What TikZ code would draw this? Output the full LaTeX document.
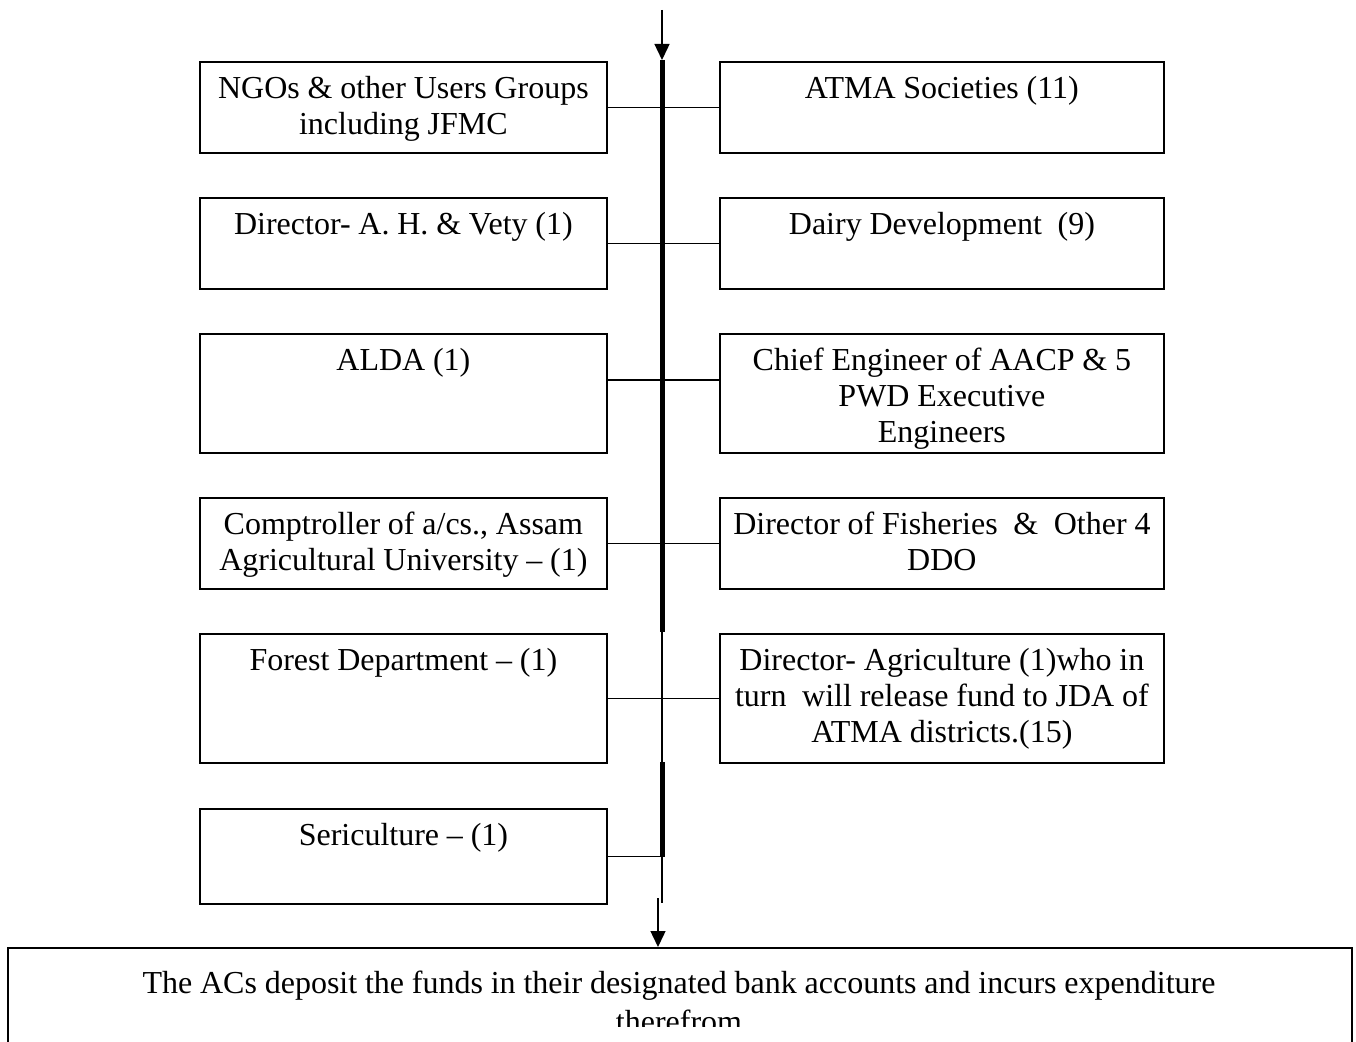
\documentclass[tikz,border=0pt]{standalone}
\usepackage{fontspec}
\setmainfont{Liberation Serif}
\usetikzlibrary{arrows.meta,calc}
\begin{document}
\begin{tikzpicture}[x=1pt,y=-1pt,
  box/.style={draw,line width=1.8pt,inner sep=0pt,anchor=north west},
  lbox/.style={box,minimum width=407pt},
  rbox/.style={box,minimum width=444pt},
  txt/.style={anchor=base,inner sep=0pt,text width=600pt,align=center,font=\fontsize{32}{36}\selectfont,
    execute at begin node={\spaceskip=7.8pt\xspaceskip=7.8pt\relax}},
  conn/.style={line width=1.8pt},
  thick spine/.style={line width=5pt},
  thin spine/.style={line width=1.8pt},
  arr/.style={line width=1.4pt,-{Triangle[width=15pt,length=16pt]}}]
\useasboundingbox (0,0) rectangle (1356,1041);
\begin{scope}
\clip (0,0) rectangle (1356,1041);
% boxes
\node[lbox,minimum height=91pt] (l1) at (199,61) {};
\node[rbox,minimum height=91pt] (r1) at (719,61) {};
\node[lbox,minimum height=91pt] (l2) at (199,197) {};
\node[rbox,minimum height=91pt] (r2) at (719,197) {};
\node[lbox,minimum height=119pt] (l3) at (199,333) {};
\node[rbox,minimum height=119pt] (r3) at (719,333) {};
\node[lbox,minimum height=91pt] (l4) at (199,497) {};
\node[rbox,minimum height=91pt] (r4) at (719,497) {};
\node[lbox,minimum height=129pt] (l5) at (199,633) {};
\node[rbox,minimum height=129pt] (r5) at (719,633) {};
\node[lbox,minimum height=95pt] (l6) at (199,808) {};
\node[box,minimum width=1344pt,minimum height=200pt] (bb) at (7,947) {};
% texts
\node[txt] (tl1) at ($(l1.north)+(0,37)$) {NGOs \& other Users Groups\\including JFMC};
\node[txt] (tr1) at ($(r1.north)+(0,37)$) {ATMA Societies (11)};
\node[txt] (tl2) at ($(l2.north)+(0,37)$) {Director- A. H. \& Vety (1)};
\node[txt] (tr2) at ($(r2.north)+(0,37)$) {Dairy Development\ \ (9)};
\node[txt] (tl3) at ($(l3.north)+(0,37)$) {ALDA (1)};
\node[txt] (tr3) at ($(r3.north)+(0,37)$) {Chief Engineer of AACP \& 5\\PWD Executive\\Engineers};
\node[txt] (tl4) at ($(l4.north)+(0,37)$) {Comptroller of a/cs., Assam\\Agricultural University -- (1)};
\node[txt] (tr4) at ($(r4.north)+(0,37)$) {Director of Fisheries\ \ \&\ \ Other 4\\DDO};
\node[txt] (tl5) at ($(l5.north)+(0,37)$) {Forest Department -- (1)};
\node[txt] (tr5) at ($(r5.north)+(0,37)$) {Director- Agriculture (1)who in\\turn\ \ will release fund to JDA of\\ATMA districts.(15)};
\node[txt] (tl6) at ($(l6.north)+(0,37)$) {Sericulture -- (1)};
\begin{scope}
\clip (0,0) rectangle (1356,1026);
\node[txt,text width=1320pt] (tb) at (679,993) {The ACs deposit the funds in their designated bank accounts and incurs expenditure\\[3pt]therefrom};
\end{scope}
% spine
\coordinate (ta) at (662,10);
\coordinate (s0) at (662,60);
\coordinate (s1) at (662,632);
\coordinate (s2) at (662,762);
\coordinate (s3) at (662,857);
\coordinate (s4) at (662,903);
\coordinate (ba) at (658,898);
\draw[thick spine] (s0) -- (s1);
\draw[thin spine] (s1) -- (s2);
\draw[thick spine] (s2) -- (s3);
\draw[thin spine] (s3) -- (s4);
\draw[arr] (ta) -- (s0);
\draw[arr] (ba) -- (ba |- bb.north);
% connectors
\draw[conn] (l1.east) -- (r1.west);
\draw[conn] (l2.east) -- (r2.west);
\draw[conn] ($(l3.north east)+(0,47)$) -- ($(r3.north west)+(0,47)$);
\draw[conn] (l4.east) -- (r4.west);
\draw[conn] (l5.east) -- (r5.west);
\draw[conn] (l6.east) -- (l6.east -| s3);
\end{scope}
\end{tikzpicture}
\end{document}
